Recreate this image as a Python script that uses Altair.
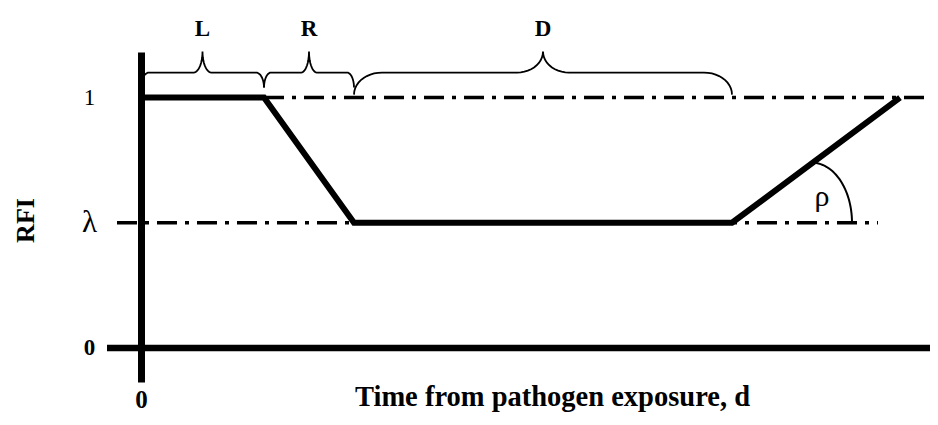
import numpy as np
import pandas as pd
import altair as alt

# ---------------- data ----------------
PHASES = ["L", "R", "D"]              # latent, reduction, duration phases
PHASE_DUR = [4.1, 3.0, 12.6]          # lengths of the phases (time units)
RECOVERY_DUR = 5.6                    # recovery back to 1 (rate rho)
LAMBDA = 0.5                          # reduced RFI level
Y_TICKS = [0, 0.5, 1]
Y_TICK_LABELS = ["0", "λ", "1"]
X_TICKS = [0]
X_TICK_LABELS = ["0"]
X_TITLE = "Time from pathogen exposure, d"
Y_TITLE = "RFI"
ANGLE_LABEL = "ρ"

# ---------------- layout ----------------
W, H = 789, 330
X_DOMAIN = [0, 26.3]
Y_DOMAIN = [-0.136, 1.182]
PXX = W / (X_DOMAIN[1] - X_DOMAIN[0])          # px per x unit
PXY = H / (Y_DOMAIN[1] - Y_DOMAIN[0])          # px per y unit
FONT = "Liberation Serif"

# profile of RFI over time
bounds = np.concatenate([[0], np.cumsum(PHASE_DUR)])
t_end = bounds[-1] + RECOVERY_DUR
profile = pd.DataFrame({
    "t": [0, bounds[1], bounds[2], bounds[3], t_end],
    "rfi": [1, 1, LAMBDA, LAMBDA, 1],
    "i": range(5),
})

# reference dash-dot lines
ref = pd.DataFrame({
    "x": [bounds[1], -24 / PXX],
    "x2": [t_end + 35 / PXX, t_end - 22 / PXX],
    "y": [1, LAMBDA],
})

# braces above the phases (shape derived from phase intervals)
BRACE_STYLE = {  # px: end curl rx, end curl ry, cusp rx
    "L": (8, 15, 9),
    "R": (7, 15, 8),
    "D": (28, 22, 26),
}
YB = 1 + 25 / PXY      # brace baseline
CUSP_RY = 21 / PXY
rows = []
for name, x0, x1 in zip(PHASES, bounds[:-1], bounds[1:]):
    rxe, rye, rxc = BRACE_STYLE[name]
    rxe, rye, rxc = rxe / PXX, rye / PXY, rxc / PXX
    xm = (x0 + x1) / 2
    segs = []
    t = np.linspace(np.pi, np.pi / 2, 12)
    segs.append((x0 + rxe + rxe * np.cos(t), YB - rye + rye * np.sin(t)))
    t = np.linspace(-np.pi / 2, 0, 12)
    segs.append((xm - rxc + rxc * np.cos(t), YB + CUSP_RY + CUSP_RY * np.sin(t)))
    t = np.linspace(np.pi, 1.5 * np.pi, 12)
    segs.append((xm + rxc + rxc * np.cos(t), YB + CUSP_RY + CUSP_RY * np.sin(t)))
    t = np.linspace(np.pi / 2, 0, 12)
    segs.append((x1 - rxe + rxe * np.cos(t), YB - rye + rye * np.sin(t)))
    xs = np.concatenate([s[0] for s in segs])
    ys = np.concatenate([s[1] for s in segs])
    for k, (a, b) in enumerate(zip(xs, ys)):
        rows.append({"brace": name, "x": a, "y": b, "i": k})
braces = pd.DataFrame(rows)

brace_labels = pd.DataFrame({
    "label": PHASES,
    "x": (bounds[:-1] + bounds[1:]) / 2,
    "y": [1 + 69 / PXY] * 3,
})

# angle arc for rho
arc_cx = bounds[3] + 80 / PXX
arc_rx, arc_ry = 40 / PXX, 60 / PXY
t = np.linspace(np.pi / 2, 0, 30)
arc = pd.DataFrame({"x": arc_cx + arc_rx * np.cos(t),
                    "y": LAMBDA + arc_ry * np.sin(t),
                    "i": range(30)})
rho = pd.DataFrame({"label": [ANGLE_LABEL],
                    "x": [arc_cx + 10 / PXX],
                    "y": [LAMBDA + 26 / PXY]})

axis_line = pd.DataFrame({"x": [-34 / PXX], "x2": [X_DOMAIN[1]], "y": [0]})

# ---------------- encodings ----------------
lab_map = "{" + ",".join(f"'{v}':'{l}'" for v, l in zip(Y_TICKS, Y_TICK_LABELS)) + "}"
xlab_map = "{" + ",".join(f"'{v}':'{l}'" for v, l in zip(X_TICKS, X_TICK_LABELS)) + "}"

x_axis = alt.Axis(values=X_TICKS, labelExpr=f"{xlab_map}[datum.value + '']",
                  labelFlush=False, domain=False, ticks=False, tickSize=0, grid=False,
                  labelPadding=5, labelFont=FONT, labelFontSize=25,
                  labelFontWeight="bold", labelColor="black",
                  title=X_TITLE, titleFont=FONT, titleFontSize=28.5,
                  titleFontWeight="bold", titleColor="black",
                  titleX=411, titleY=23, titleAlign="center",
                  titleBaseline="alphabetic")
y_axis = alt.Axis(values=Y_TICKS, labelExpr=f"{lab_map}[datum.value + '']",
                  domain=True, domainColor="black", domainWidth=7,
                  ticks=False, tickSize=0, grid=False,
                  labelAlign="center", labelPadding=52, labelFont=FONT,
                  labelColor="black",
                  labelFontSize={"condition": {"test": "datum.value == 0.5", "value": 31},
                                 "value": 23},
                  labelFontWeight={"condition": {"test": "datum.value == 0", "value": "bold"},
                                   "value": "normal"},
                  title=Y_TITLE, titleFont=FONT, titleFontSize=26,
                  titleFontWeight="bold", titleColor="black", titleAngle=270,
                  titleX=-108, titleY=168, titleAlign="center",
                  titleBaseline="alphabetic")

xs = alt.Scale(domain=X_DOMAIN, nice=False, zero=False)
ysc = alt.Scale(domain=Y_DOMAIN, nice=False, zero=False)


def X(f):
    return alt.X(f, type="quantitative", scale=xs, axis=x_axis)


def Y(f):
    return alt.Y(f, type="quantitative", scale=ysc, axis=y_axis)


# ---------------- layers ----------------
xaxis_rule = alt.Chart(axis_line).mark_rule(color="black", strokeWidth=6.5).encode(
    x=X("x"), x2="x2", y=Y("y"))

ref_lines = alt.Chart(ref).mark_rule(color="black", strokeWidth=3.5,
                                     strokeDash=[20, 8, 4, 8]).encode(
    x=X("x"), x2="x2", y=Y("y"))

prof = alt.Chart(profile).mark_line(color="black", strokeWidth=6,
                                    strokeJoin="miter", strokeCap="butt").encode(
    x=X("t"), y=Y("rfi"), order="i:Q")

brace_lines = alt.Chart(braces).mark_line(color="black", strokeWidth=1.8).encode(
    x=X("x"), y=Y("y"), detail="brace:N", order="i:Q")

brace_text = alt.Chart(brace_labels).mark_text(font=FONT, fontSize=23,
                                               fontWeight="bold", color="black",
                                               baseline="middle").encode(
    x=X("x"), y=Y("y"), text="label:N")

arc_line = alt.Chart(arc).mark_line(color="black", strokeWidth=2).encode(
    x=X("x"), y=Y("y"), order="i:Q")

rho_text = alt.Chart(rho).mark_text(font=FONT, fontSize=30, color="black",
                                    baseline="middle").encode(
    x=X("x"), y=Y("y"), text="label:N")

chart = alt.layer(xaxis_rule, ref_lines, prof, brace_lines, brace_text,
                  arc_line, rho_text).properties(
    width=W, height=H,
    autosize=alt.AutoSizeParams(type="none"),
    padding={"left": 133, "top": 44, "right": 0, "bottom": 35},
    background="white",
).configure_view(stroke=None)

chart.save("out.html", embed_options={"renderer": "svg", "actions": False})
